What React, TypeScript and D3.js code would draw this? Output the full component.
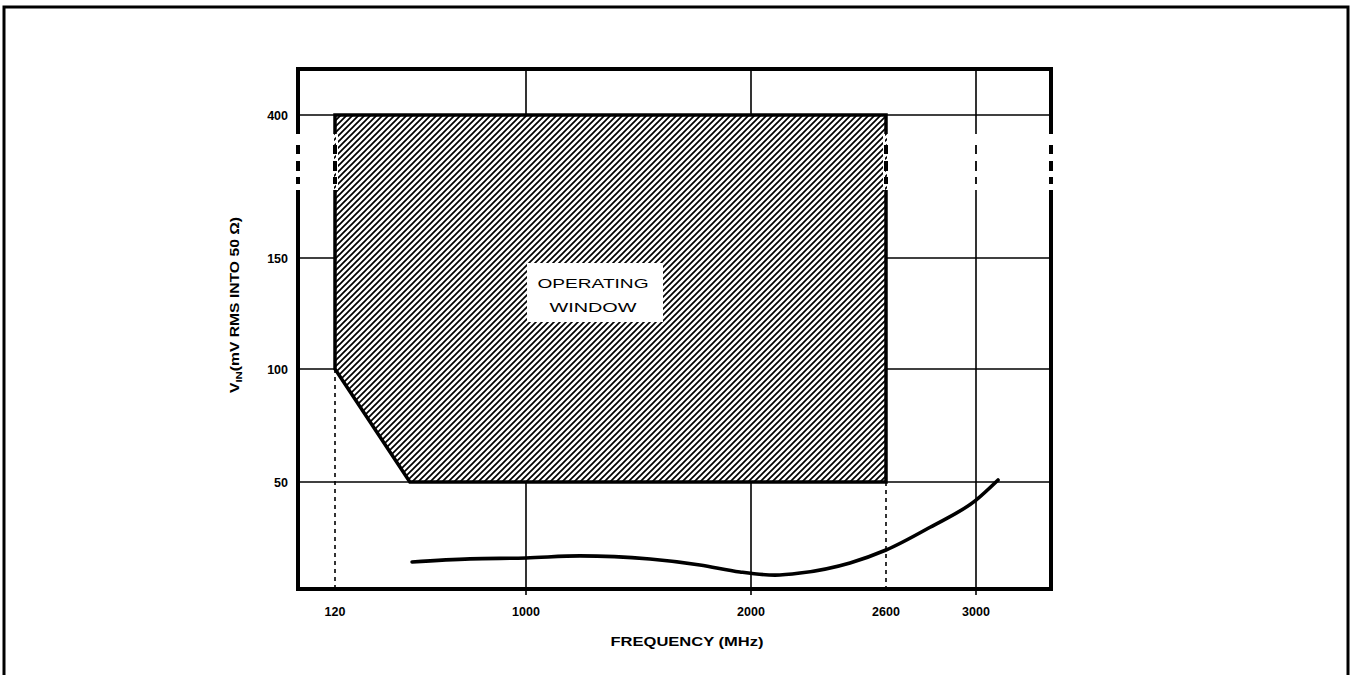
import React from "react";
import * as d3 from "d3";

// ---- data ----
const xTickValues = [120, 1000, 2000, 2600, 3000];
const xTickLabels = ["120", "1000", "2000", "2600", "3000"];
const xGridValues = [1000, 2000, 3000];
const yTickValues = [50, 100, 150, 400];
const yTickLabels = ["50", "100", "150", "400"];
const windowFreq = [120, 2600, 2600, 465, 120];
const windowMv = [400, 400, 50, 50, 100];
const curveFreq = [475, 742, 1000, 1240, 1551, 1773, 1951, 2107, 2218, 2440, 2600, 2796, 3000, 3098];
const curveMv = [14.6, 16, 16.4, 17.3, 15.9, 13.3, 10.2, 8.8, 9.7, 14.2, 19.9, 30, 42, 50.9];

const W = 1356;
const H = 675;
const frame = { left: 298, right: 1051, top: 69, bottom: 589 };
const FONT = "'Liberation Sans', Arial, sans-serif";

export default function App() {
  const x = d3.scaleLinear().domain([120, 1000, 2000, 3000]).range([335, 526, 751, 976]);
  const y = d3.scaleLinear().domain([50, 100, 150, 400]).range([482, 369, 258, 115]);

  const windowPts: [number, number][] = windowFreq.map((f, i) => [x(f), y(windowMv[i])]);
  const windowPath = d3.line()(windowPts) + "Z";

  const curvePts: [number, number][] = curveFreq.map((f, i) => [x(f), y(curveMv[i])]);
  const curvePath = d3.line().curve(d3.curveMonotoneX)(curvePts) || "";

  // broken-axis region (between 150 and 400)
  const breakTop = 134;
  const breakBottom = 190;
  const breakDashes: [number, number][] = [
    [145, 154],
    [161, 171],
    [177, 184],
  ];
  const breakXs = [frame.left, x(120), x(2600), x(3000), frame.right];

  const y50 = y(50);
  const y100 = y(100);

  return (
    <svg
      width={W}
      height={H}
      style={{ position: "absolute", left: 0, top: 0, background: "#fff" }}
      fontFamily={FONT}
    >
      <defs>
        <pattern id="hatch" patternUnits="userSpaceOnUse" width={6} height={6}>
          <rect width={6} height={6} fill="#fff" />
          <path d="M-1,1 L1,-1 M0,6 L6,0 M5,7 L7,5" stroke="#000" strokeWidth={1.7} />
        </pattern>
      </defs>

      {/* outer border */}
      <rect x={4} y={7} width={1344} height={H + 10} fill="none" stroke="#000" strokeWidth={3} />

      {/* horizontal grid lines */}
      {yTickValues.map((v) => (
        <line key={"hg" + v} x1={frame.left} x2={frame.right} y1={y(v)} y2={y(v)} stroke="#000" strokeWidth={1.6} />
      ))}
      {/* vertical grid lines */}
      {xGridValues.map((v) => (
        <line key={"vg" + v} x1={x(v)} x2={x(v)} y1={frame.top} y2={frame.bottom + 6} stroke="#000" strokeWidth={1.6} />
      ))}
      {/* dashed verticals at 120 and 2600 */}
      <line x1={x(120)} x2={x(120)} y1={y100} y2={frame.bottom} stroke="#000" strokeWidth={1.6} strokeDasharray="4,4" />
      <line x1={x(2600)} x2={x(2600)} y1={y50} y2={frame.bottom} stroke="#000" strokeWidth={1.6} strokeDasharray="4,4" />

      {/* operating window */}
      <path d={windowPath} fill="url(#hatch)" stroke="#000" strokeWidth={3.5} strokeLinejoin="miter" />

      {/* label box */}
      <rect x={527} y={263} width={136} height={59} fill="#fff" />
      <text x={593} y={288} textAnchor="middle" fontSize={13.5} textLength={111} lengthAdjust="spacingAndGlyphs">
        OPERATING
      </text>
      <text x={593} y={312} textAnchor="middle" fontSize={13.5} textLength={87} lengthAdjust="spacingAndGlyphs">
        WINDOW
      </text>

      {/* curve */}
      <path d={curvePath} fill="none" stroke="#000" strokeWidth={3.6} strokeLinecap="round" />

      {/* frame */}
      <rect
        x={frame.left}
        y={frame.top}
        width={frame.right - frame.left}
        height={frame.bottom - frame.top}
        fill="none"
        stroke="#000"
        strokeWidth={4}
      />

      {/* broken-axis marks */}
      {breakXs.map((bx, i) => (
        <g key={"br" + i}>
          <rect x={bx - 3} y={breakTop} width={6} height={breakBottom - breakTop} fill="#fff" />
          {i === 1 || i === 2 ? (
            <rect x={bx - 1} y={breakTop} width={2} height={breakBottom - breakTop} fill="url(#hatch)" />
          ) : null}
          {breakDashes.map(([a, b], j) => (
            <line key={j} x1={bx} x2={bx} y1={a} y2={b} stroke="#000" strokeWidth={i === 3 ? 1.8 : 4} />
          ))}
        </g>
      ))}

      {/* y tick labels */}
      {yTickValues.map((v, i) => (
        <text key={"yl" + v} x={288} y={y(v) + 4.5} textAnchor="end" fontSize={12.5} fontWeight={700}>
          {yTickLabels[i]}
        </text>
      ))}
      {/* x tick labels */}
      {xTickValues.map((v, i) => (
        <text key={"xl" + v} x={x(v)} y={616} textAnchor="middle" fontSize={12.5} fontWeight={700}>
          {xTickLabels[i]}
        </text>
      ))}

      {/* axis titles */}
      <text x={687} y={646} textAnchor="middle" fontSize={12.5} fontWeight={700} textLength={153} lengthAdjust="spacingAndGlyphs">
        FREQUENCY (MHz)
      </text>
      <text
        transform={`translate(239, ${305}) rotate(-90)`}
        textAnchor="middle"
        fontSize={12.5}
        fontWeight={700}
        textLength={176}
        lengthAdjust="spacingAndGlyphs"
      >
        V<tspan fontSize={9} dy={3}>IN</tspan>
        <tspan dy={-3}>(mV RMS INTO 50 Ω)</tspan>
      </text>
    </svg>
  );
}
